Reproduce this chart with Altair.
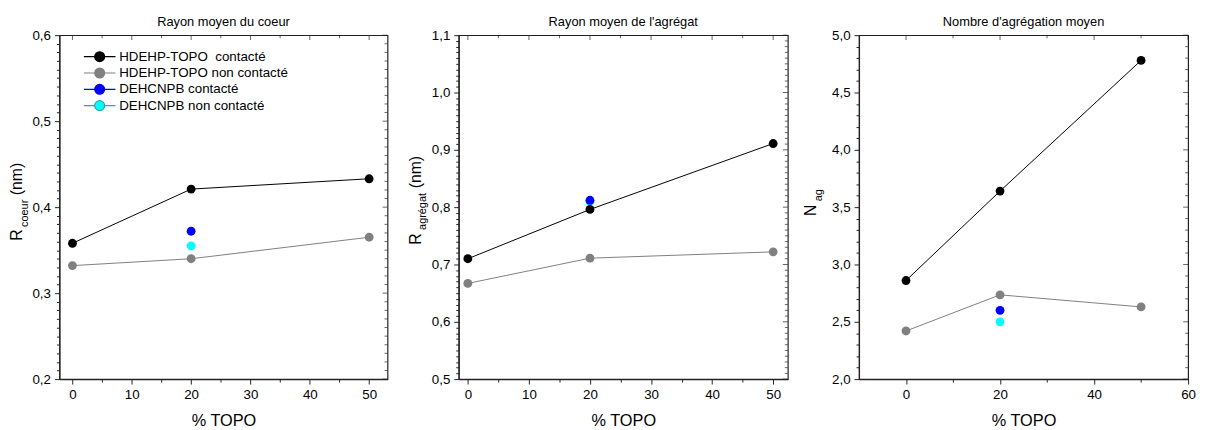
import altair as alt
import pandas as pd

FONT = "Liberation Sans"

# ---------------- data ----------------
SERIES = ["HDEHP-TOPO\u00a0 contacté", "HDEHP-TOPO non contacté", "DEHCNPB contacté", "DEHCNPB non contacté"]
FILL_COLORS = ["#000000", "#808080", "#0000FF", "#00FFFF"]
LINE_COLORS = ["#000000", "#808080", "#0000FF", "#2AA8A8"]

TOPO = [0, 20, 50]
TOPO_DEHCNPB = [20]

# Rayon moyen du coeur (nm)
COEUR_HDEHP_C = [0.358, 0.421, 0.433]
COEUR_HDEHP_NC = [0.332, 0.340, 0.365]
COEUR_DEHCNPB_C = [0.372]
COEUR_DEHCNPB_NC = [0.355]

# Rayon moyen de l'agrégat (nm)
AGREG_HDEHP_C = [0.710, 0.796, 0.911]
AGREG_HDEHP_NC = [0.667, 0.711, 0.722]
AGREG_DEHCNPB_C = [0.812]
AGREG_DEHCNPB_NC = [0.810]

# Nombre d'agrégation moyen
NAG_HDEHP_C = [2.86, 3.64, 4.78]
NAG_HDEHP_NC = [2.42, 2.735, 2.63]
NAG_DEHCNPB_C = [2.60]
NAG_DEHCNPB_NC = [2.50]

# axis tick values
X12_MAJOR = [0, 10, 20, 30, 40, 50]
X12_MINOR = [5, 15, 25, 35, 45]
X3_MAJOR = [0, 20, 40, 60]
X3_MINOR = [10, 30, 50]
Y1_MAJOR = [0.2, 0.3, 0.4, 0.5, 0.6]
Y2_MAJOR = [0.5, 0.6, 0.7, 0.8, 0.9, 1.0, 1.1]
Y3_MAJOR = [2.0, 2.5, 3.0, 3.5, 4.0, 4.5, 5.0]


def minor_between(major, n):
    out = []
    for a, b in zip(major[:-1], major[1:]):
        for k in range(1, n):
            out.append(round(a + (b - a) * k / n, 4))
    return out


Y1_MINOR = minor_between(Y1_MAJOR, 10)
Y2_MINOR = minor_between(Y2_MAJOR, 10)
Y3_MINOR = minor_between(Y3_MAJOR, 5)


def build_df(c, nc, dc, dnc):
    rows = []
    for x, v in zip(TOPO, nc):
        rows.append({"topo": x, "val": v, "serie": SERIES[1]})
    for x, v in zip(TOPO_DEHCNPB, dnc):
        rows.append({"topo": x, "val": v, "serie": SERIES[3]})
    for x, v in zip(TOPO_DEHCNPB, dc):
        rows.append({"topo": x, "val": v, "serie": SERIES[2]})
    for x, v in zip(TOPO, c):
        rows.append({"topo": x, "val": v, "serie": SERIES[0]})
    return pd.DataFrame(rows)


H = 348

SYMBOL = "M-3.2,0L-1,0M1,0L3.2,0M1,0A1,1,0,1,1,-1,0A1,1,0,1,1,1,0Z"
LEGEND = alt.Legend(
    orient="none", legendX=34, legendY=15, title=None,
    symbolType=SYMBOL, symbolSize=100, symbolStrokeWidth=1.2,
    labelFont=FONT, labelFontSize=13.5, labelColor="#000", labelLimit=0,
    labelOffset=13, rowPadding=0.5, padding=0,
)


def txt(content, x, y, size, angle=0, align="left"):
    mark = dict(align=align, baseline="alphabetic", fontSize=size, font=FONT, color="#000")
    if angle:
        mark["angle"] = angle
    return alt.Chart(pd.DataFrame({"t": [content]})).mark_text(**mark).encode(
        text="t:N", x=alt.value(x), y=alt.value(y)
    )


def panel(title, W, df, xdom, ydom, xmaj, xmin, xstep, ymaj, ymin, ystep, yfmt, texts, legend):
    xtest = f"abs(datum.value/{xstep} - round(datum.value/{xstep})) < 1e-6"
    ytest = f"abs(datum.value/{ystep} - round(datum.value/{ystep})) < 1e-6"
    x_axis = alt.Axis(
        values=xmaj + xmin, title="% TOPO",
        tickSize={"condition": {"test": xtest, "value": 5}, "value": 3},
        labelExpr=f"{xtest} ? format(datum.value, 'd') : ''",
        labelOverlap=False, labelFlush=False, grid=False, labelPadding=4, titlePadding=11,
    )
    y_axis = alt.Axis(
        values=ymaj + ymin, title=None,
        tickSize={"condition": {"test": ytest, "value": 5}, "value": 3},
        labelExpr=f"{ytest} ? replace(format(datum.value, '{yfmt}'), '.', ',') : ''",
        labelOverlap=False, grid=False, labelPadding=4,
    )
    xs = alt.Scale(domain=xdom, nice=False, zero=False)
    ys = alt.Scale(domain=ydom, nice=False, zero=False)
    fill_scale = alt.Scale(domain=SERIES, range=FILL_COLORS)
    stroke_scale = alt.Scale(domain=SERIES, range=LINE_COLORS)
    lg = LEGEND if legend else None

    lines = alt.Chart(df).mark_line(strokeWidth=1).encode(
        x=alt.X("topo:Q", scale=xs, axis=x_axis),
        y=alt.Y("val:Q", scale=ys, axis=y_axis),
        stroke=alt.Stroke("serie:N", scale=stroke_scale, legend=lg),
    )
    points = alt.Chart(df).mark_point(filled=True, size=80, opacity=1).encode(
        x=alt.X("topo:Q", scale=xs, axis=x_axis),
        y=alt.Y("val:Q", scale=ys, axis=y_axis),
        color=alt.Color("serie:N", scale=fill_scale, legend=lg),
    )
    top_maj = alt.Chart(pd.DataFrame({"v": xmaj})).mark_tick(
        orient="vertical", size=5, thickness=1, color="#222"
    ).encode(x=alt.X("v:Q", scale=xs, axis=x_axis), y=alt.value(2.5))
    top_min = alt.Chart(pd.DataFrame({"v": xmin})).mark_tick(
        orient="vertical", size=3, thickness=1, color="#222"
    ).encode(x=alt.X("v:Q", scale=xs, axis=x_axis), y=alt.value(1.5))
    right_maj = alt.Chart(pd.DataFrame({"v": ymaj})).mark_tick(
        orient="horizontal", size=5, thickness=1, color="#222"
    ).encode(y=alt.Y("v:Q", scale=ys, axis=y_axis), x=alt.value(W - 2.5))
    right_min = alt.Chart(pd.DataFrame({"v": ymin})).mark_tick(
        orient="horizontal", size=3, thickness=1, color="#222"
    ).encode(y=alt.Y("v:Q", scale=ys, axis=y_axis), x=alt.value(W - 1.5))
    title_layer = txt(title, W / 2, -9, 13, align="center")
    txt_layers = [txt(c, x, y, s, angle=270) for (c, x, y, s) in texts]
    return alt.layer(lines, points, top_maj, top_min, right_maj, right_min, title_layer, *txt_layers).properties(
        width=W, height=H,
    )


p1 = panel(
    "Rayon moyen du coeur", 332, build_df(COEUR_HDEHP_C, COEUR_HDEHP_NC, COEUR_DEHCNPB_C, COEUR_DEHCNPB_NC),
    [-2.2, 53.1], [0.2, 0.6], X12_MAJOR, X12_MINOR, 10, Y1_MAJOR, Y1_MINOR, 0.1, ".1f",
    [("R", -38, 208, 16), ("coeur", -32, 194, 11), ("(nm)", -38, 162, 16)], True,
)
p2 = panel(
    "Rayon moyen de l'agrégat", 333, build_df(AGREG_HDEHP_C, AGREG_HDEHP_NC, AGREG_DEHCNPB_C, AGREG_DEHCNPB_NC),
    [-1.5, 52.4], [0.5, 1.1], X12_MAJOR, X12_MINOR, 10, Y2_MAJOR, Y2_MINOR, 0.1, ".1f",
    [("R", -38, 212, 16), ("agrégat", -33, 197, 11), ("(nm)", -38, 155, 16)], False,
)
p3 = panel(
    "Nombre d'agrégation moyen", 333, build_df(NAG_HDEHP_C, NAG_HDEHP_NC, NAG_DEHCNPB_C, NAG_DEHCNPB_NC),
    [-10, 60], [2.0, 5.0], X3_MAJOR, X3_MINOR, 20, Y3_MAJOR, Y3_MINOR, 0.5, ".1f",
    [("N", -43, 183, 16), ("ag", -37, 168, 11)], False,
)

chart = alt.hconcat(p1, p2, p3, spacing=72, bounds="flush").resolve_scale(
    color="independent", stroke="independent"
).properties(
    padding={"left": 0, "top": 5, "right": 0, "bottom": 0},
).configure_view(
    stroke="#222", strokeWidth=1.2
).configure_axis(
    labelFont=FONT, labelFontSize=13.5, labelColor="#000",
    titleFont=FONT, titleFontSize=16.5, titleFontWeight="normal", titleColor="#000",
    tickColor="#222", tickWidth=1, domainColor="#222", domainWidth=1.2,
)

chart.save("out.html", embed_options={"renderer": "svg", "actions": False})
